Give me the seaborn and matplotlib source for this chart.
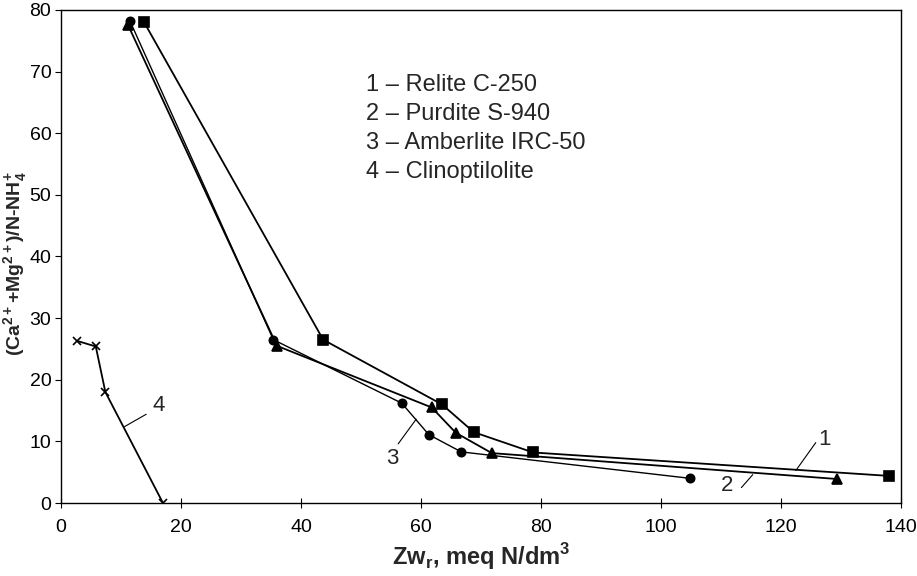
import matplotlib
matplotlib.use("Agg")
import matplotlib.pyplot as plt
import seaborn as sns
import pandas as pd

# Dane
relite_x = [13.8, 43.7, 63.5, 68.8, 78.7, 138.0]
relite_y = [78.1, 26.5, 16.0, 11.5, 8.2, 4.4]

purdite_x = [11.2, 36.0, 61.8, 65.8, 71.8, 129.3]
purdite_y = [77.5, 25.5, 15.5, 11.4, 8.1, 3.9]

amberlite_x = [11.5, 35.4, 56.8, 61.3, 66.7, 104.9]
amberlite_y = [78.2, 26.5, 16.2, 11.1, 8.3, 4.0]

clino_x = [2.7, 5.8, 7.4, 17.0]
clino_y = [26.3, 25.4, 18.0, 0.0]

legend_lines = ["1 \u2013 Relite C-250", "2 \u2013 Purdite S-940",
                "3 \u2013 Amberlite IRC-50", "4 \u2013 Clinoptilolite"]

x_ticks = [0, 20, 40, 60, 80, 100, 120, 140]
y_ticks = [0, 10, 20, 30, 40, 50, 60, 70, 80]

sns.set_style("ticks")
plt.rcParams["font.family"] = ["Liberation Sans", "DejaVu Sans"]
plt.rcParams["mathtext.fontset"] = "custom"
plt.rcParams["mathtext.rm"] = "Liberation Sans"
plt.rcParams["mathtext.bf"] = "Liberation Sans:bold"

fig = plt.figure(figsize=(9.17, 5.76), dpi=100)
ax = fig.add_axes([0.0665, 0.1267, 0.916, 0.856])

series = [
    (relite_x, relite_y, "s", 6.5, 1.3),
    (purdite_x, purdite_y, "^", 6.5, 1.3),
    (amberlite_x, amberlite_y, "o", 6, 1.0),
    (clino_x, clino_y, "x", 6, 1.3),
]
for xs, ys, mk, ms, lw in series:
    df = pd.DataFrame({"x": xs, "y": ys})
    sns.lineplot(data=df, x="x", y="y", sort=False, color="black", lw=lw,
                 marker=mk, markersize=ms, markeredgecolor="black",
                 markerfacecolor="black", markeredgewidth=1.2, ax=ax)

# numery krzywych i kreski odniesienia
ax.plot([122.5, 125.8], [5.3, 9.8], color="black", lw=0.8)
ax.text(127.3, 10.3, "1", fontsize=16, ha="center", va="center")
ax.plot([113.4, 115.3], [2.5, 4.6], color="black", lw=0.8)
ax.text(111.0, 2.9, "2", fontsize=16, ha="center", va="center")
ax.plot([56.2, 59.2], [9.6, 13.6], color="black", lw=0.8)
ax.text(55.2, 7.3, "3", fontsize=16, ha="center", va="center")
ax.plot([10.6, 14.2], [12.4, 14.4], color="black", lw=0.8)
ax.text(16.3, 15.9, "4", fontsize=16, ha="center", va="center")

# opis serii
for i, s in enumerate(legend_lines):
    ax.text(50.9, 67.9 - i * 4.75, s, fontsize=17, ha="left", va="center")

ax.set_xlim(0, 140)
ax.set_ylim(0, 80)
ax.set_xticks(x_ticks)
ax.set_yticks(y_ticks)
ax.tick_params(axis="x", direction="inout", length=7, labelsize=14, pad=8,
               colors="black")
ax.tick_params(axis="y", direction="out", length=4, labelsize=14, pad=3,
               colors="black")
for sp in ax.spines.values():
    sp.set_color("black")
    sp.set_linewidth(1.0)

ax.set_xlabel(r"Zw$_\mathregular{r}$, meq N/dm$^\mathbf{3}$", fontsize=17,
              fontweight="bold", labelpad=4)
ax.set_ylabel(r"(Ca$^\mathbf{2+}$+Mg$^\mathbf{2+}$)/N-NH$_\mathbf{4}^\mathbf{+}$",
              fontsize=14, fontweight="bold", va="center")
ax.yaxis.set_label_coords(-0.054, 0.485)

fig.savefig("out.png", dpi=100, facecolor="white")
